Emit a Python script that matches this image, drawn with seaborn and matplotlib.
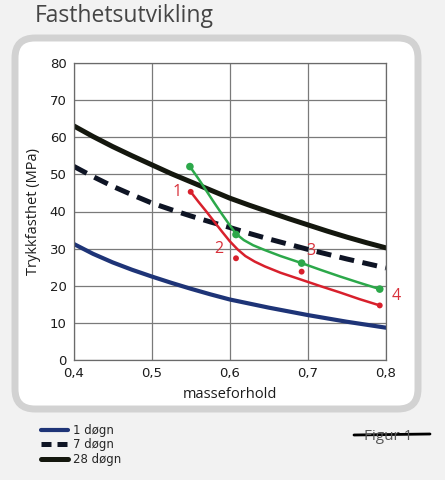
import matplotlib
matplotlib.use('Agg')
import matplotlib.pyplot as plt
import pandas as pd
import seaborn as sns
from matplotlib.patches import FancyBboxPatch
from matplotlib.lines import Line2D
from matplotlib.ticker import FuncFormatter, MultipleLocator


# strength curves (MPa) vs masseforhold
wc = [0.400, 0.425, 0.450, 0.475, 0.500, 0.525, 0.550, 0.575, 0.600,
      0.625, 0.650, 0.675, 0.700, 0.725, 0.750, 0.775, 0.800]
dogn_1 = [31.3, 28.6, 26.3, 24.3, 22.5, 20.8, 19.2, 17.7, 16.3,
          15.2, 14.1, 13.1, 12.1, 11.2, 10.3, 9.5, 8.7]
dogn_7 = [52.2, 49.4, 46.8, 44.5, 42.3, 40.5, 38.8, 37.2, 35.7,
          34.1, 32.6, 31.2, 29.8, 28.5, 27.2, 26.0, 24.8]
dogn_28 = [63.1, 60.2, 57.5, 55.0, 52.6, 50.2, 48.0, 45.8, 43.6,
           41.7, 39.9, 38.1, 36.4, 34.7, 33.1, 31.6, 30.2]

# green series (measured points + fitted line)
green_pts_x = [0.549, 0.608, 0.692, 0.792]
green_pts_y = [52.1, 33.8, 26.1, 19.1]
green_x = [0.549, 0.560, 0.570, 0.580, 0.590, 0.600, 0.608, 0.618, 0.630,
           0.645, 0.665, 0.692, 0.716, 0.741, 0.766, 0.792]
green_y = [52.1, 48.8, 45.6, 42.4, 39.3, 36.3, 34.0, 32.3, 30.9,
           29.6, 28.0, 26.1, 24.3, 22.5, 20.8, 19.1]

# red series (measured points + fitted line)
red_pts_x = [0.550, 0.608, 0.692, 0.792]
red_pts_y = [45.3, 27.4, 23.8, 14.7]
red_labels = ['1', '2', '3', '4']
red_x = [0.550, 0.560, 0.570, 0.580, 0.590, 0.600, 0.610, 0.620, 0.632,
         0.645, 0.665, 0.692, 0.716, 0.741, 0.766, 0.792]
red_y = [45.3, 42.6, 40.0, 37.3, 34.6, 32.0, 29.8, 28.0, 26.5,
         25.2, 23.5, 21.6, 19.9, 18.2, 16.4, 14.7]

series_names = ['1 døgn', '7 døgn', '28 døgn']


def comma_fmt(v, pos):
    return f'{v:.1f}'.replace('.', ',')


def main():
    sns.set_style('white')
    plt.rcParams['font.family'] = ['DejaVu Sans']

    W, H = 445, 480
    fig = plt.figure(figsize=(W / 100, H / 100), dpi=100, facecolor='#f2f2f2')

    # background frame (pixel coordinates)
    bg = fig.add_axes([0, 0, 1, 1], zorder=-5)
    bg.set_xlim(0, W)
    bg.set_ylim(H, 0)
    bg.axis('off')
    bg.add_patch(FancyBboxPatch((15, 38), 403, 371,
                                boxstyle='round,pad=0,rounding_size=20',
                                facecolor='white', edgecolor='#d2d2d2', linewidth=5))

    ax = fig.add_axes([73.5 / W, 1 - 360 / H, (386 - 73.5) / W, (360 - 63) / H])
    ax.set_facecolor('white')

    df = pd.DataFrame({'wc': wc, '1 døgn': dogn_1, '7 døgn': dogn_7, '28 døgn': dogn_28})

    sns.lineplot(data=df, x='wc', y='1 døgn', ax=ax, color='#1e3477', linewidth=3.0)
    sns.lineplot(data=df, x='wc', y='7 døgn', ax=ax, color='#0e1424', linewidth=3.6)
    ax.lines[-1].set_dashes((3, 1.7))
    sns.lineplot(data=df, x='wc', y='28 døgn', ax=ax, color='#14170e', linewidth=3.6)

    sns.lineplot(x=green_x, y=green_y, ax=ax, color='#2ca84a', linewidth=1.8, sort=False)
    sns.scatterplot(x=green_pts_x, y=green_pts_y, ax=ax, color='#2ca84a', s=30, edgecolor='none', zorder=5)
    sns.lineplot(x=red_x, y=red_y, ax=ax, color='#d8202c', linewidth=1.8, sort=False)
    sns.scatterplot(x=red_pts_x, y=red_pts_y, ax=ax, color='#d8202c', s=18, edgecolor='none', zorder=5)
    for ln in ax.lines:
        ln.set_solid_joinstyle('round')

    offsets = [(-14, 0), (-17, 9), (9, 21), (16, 9)]
    for lab, px, py, off in zip(red_labels, red_pts_x, red_pts_y, offsets):
        ax.annotate(lab, (px, py), xytext=off, textcoords='offset pixels',
                    ha='center', va='center', color='#d8303a', fontsize=11.5,
                    family='Open Sans')

    ax.set_xlim(0.4, 0.8)
    ax.set_ylim(0, 80)
    ax.xaxis.set_major_locator(MultipleLocator(0.1))
    ax.yaxis.set_major_locator(MultipleLocator(10))
    ax.xaxis.set_major_formatter(FuncFormatter(comma_fmt))
    ax.grid(True, color='#7a7a7a', linewidth=0.9)
    ax.set_axisbelow(True)
    for sp in ax.spines.values():
        sp.set_color('#6a6a6a')
        sp.set_linewidth(0.9)
    ax.tick_params(length=0, labelsize=9.5, colors='#1c1c1c', pad=5)
    ax.set_xlabel('masseforhold', fontsize=10.5, family='Open Sans', color='#1c1c1c', labelpad=5)
    ax.set_ylabel('Trykkfasthet (MPa)', fontsize=10.5, family='Open Sans', color='#1c1c1c', labelpad=6)

    fig.text(35 / W, 1 - 16 / H, 'Fasthetsutvikling', fontsize=16.5, family='Open Sans',
             color='#454545', va='center', ha='left')

    handles = [Line2D([], [], color='#1e3477', lw=3.0),
               Line2D([], [], color='#0e1424', lw=3.6, dashes=(2, 1.2)),
               Line2D([], [], color='#14170e', lw=3.6)]
    fig.legend(handles, series_names, loc='upper left', bbox_to_anchor=(36 / W, 1 - 419 / H),
               frameon=False, fontsize=8.5, handlelength=2.3, handletextpad=0.4,
               labelspacing=0.15, borderaxespad=0)

    fig.text(388 / W, 1 - 440 / H, 'Figur 1', fontsize=11, family='Open Sans',
             color='#555555', ha='center', va='baseline')
    bg.plot([354, 430], [435, 434], color='black', lw=2.0)

    fig.savefig('out.png', dpi=100, facecolor=fig.get_facecolor())


if __name__ == '__main__':
    main()
